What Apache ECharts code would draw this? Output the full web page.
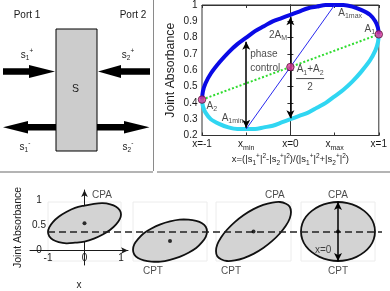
<!DOCTYPE html>
<html><head><meta charset="utf-8">
<script src="https://cdn.jsdelivr.net/npm/echarts@6/dist/echarts.min.js"></script>
<style>html,body{margin:0;padding:0;background:#fff}#c{width:390px;height:291px}</style>
</head><body><div id="c"></div>
<script>
// ---------- top-right plot data ----------
const curveX = [-1,-0.99,-0.96,-0.9,-0.8,-0.7,-0.6,-0.5,-0.4,-0.3,-0.2,-0.1,0,0.1,0.2,0.3,0.4,0.5,0.6,0.7,0.8,0.9,0.96,0.99,1];
const upperY = [0.42,0.47,0.52,0.58,0.65,0.71,0.76,0.80,0.84,0.87,0.90,0.92,0.94,0.96,0.98,0.99,1.0,1.0,1.0,0.99,0.97,0.94,0.90,0.86,0.82];
const lowerY = [0.42,0.38,0.34,0.30,0.27,0.25,0.24,0.24,0.24,0.25,0.26,0.28,0.30,0.32,0.34,0.37,0.40,0.44,0.48,0.53,0.59,0.66,0.72,0.77,0.82];
const pointsX = [-1, 0, 1];
const pointsY = [0.42, 0.62, 0.82];
const extremaX = [-0.5, 0.5];
const extremaY = [0.24, 1.0];
const yTicks = [0.2,0.3,0.4,0.5,0.6,0.7,0.8,0.9,1];
const xTicks = [-1,-0.5,0,0.5,1];
const xTickLabels = ['{n|x=-1}','{n|x}{s|min}','{n|x=0}','{n|x}{s|max}','{n|x=1}'];
const arrowX = [-0.5, 0];
const arrowLow = [0.248, 0.305];
const arrowHigh = [0.775, 0.925];

// ---------- bottom panels data ----------
const ellX = [1,0.966,0.866,0.707,0.5,0.259,0,-0.259,-0.5,-0.707,-0.866,-0.966,-1,-0.966,-0.866,-0.707,-0.5,-0.259,0,0.259,0.5,0.707,0.866,0.966];
const ellipse1Y = [0.79,0.86,0.92,0.96,0.98,0.97,0.94,0.90,0.83,0.75,0.66,0.57,0.49,0.42,0.36,0.32,0.30,0.31,0.33,0.38,0.45,0.53,0.62,0.71];
const ellipse2Y = [0.50,0.58,0.64,0.68,0.70,0.70,0.67,0.62,0.55,0.47,0.37,0.28,0.19,0.11,0.05,0.01,-0.01,-0.01,0.02,0.07,0.14,0.22,0.32,0.41];
const ellipse3Y = [0.83,0.92,0.97,1.00,0.99,0.95,0.88,0.78,0.66,0.53,0.40,0.28,0.17,0.08,0.03,0.00,0.01,0.05,0.12,0.22,0.34,0.47,0.60,0.72];
const ellipse4Y = [0.50,0.63,0.75,0.85,0.93,0.98,1.00,0.98,0.93,0.85,0.75,0.63,0.50,0.37,0.25,0.15,0.07,0.02,0.00,0.02,0.07,0.15,0.25,0.37];
const centerY = [0.64, 0.34, 0.5, 0.5];
const bottomYTicks = [0, 0.5, 1];
const bottomXTicks = [-1, 0, 1];
const thresholdY = 0.5;
const verticalArrowY = [0, 1];

// ---------- annotation anchors ----------
const topNotes = [
  {x:0.676, y:0.951, t:'{n|A}{s|1max}'},
  {x:0.899, y:0.853, t:'{n|A}{s|1}'},
  {x:-0.888, y:0.381, t:'{n|A}{s|2}'},
  {x:-0.654, y:0.307, t:'{n|A}{s|1min}'},
  {x:-0.14, y:0.816, t:'{n|2A}{s|M}'},
  {x:0.223, y:0.549, t:'{n|A}{s|1}{n|+A}{s|2}\n{bar| }\n{n|2}'}
];
const bottomNotes = [
  [{x:0.48, y:1.12, t:'CPA'}],
  [{x:-0.46, y:-0.17, t:'CPT'}],
  [{x:0.57, y:1.12, t:'CPA'}, {x:-0.6, y:-0.17, t:'CPT'}],
  [{x:0, y:1.12, t:'CPA'}, {x:0, y:-0.17, t:'CPT'}, {x:-0.4, y:0.19, t:'x=0'}]
];

const FONT = '"Liberation Sans", Arial, sans-serif';
const C = '#1a1a1a';
const FS = 10;
const rich = {
  n: {fontFamily: FONT, fontSize: FS, color: C, lineHeight: 14},
  s: {fontFamily: FONT, fontSize: 7, color: C, lineHeight: 8, verticalAlign: 'bottom'},
  p: {fontFamily: FONT, fontSize: 7, color: C, lineHeight: 8, verticalAlign: 'top'},
  bar: {width: 28, height: 1, lineHeight: 4, backgroundColor: C}
};
const frich = {
  n: {fontFamily: FONT, fontSize: 9.5, color: C, lineHeight: 14},
  s: {fontFamily: FONT, fontSize: 6.5, color: C, lineHeight: 8, verticalAlign: 'bottom'},
  p: {fontFamily: FONT, fontSize: 6.5, color: C, lineHeight: 8, verticalAlign: 'top'}
};
const grich = {
  n: {fontFamily: FONT, fontSize: 10, fill: C, lineHeight: 14},
  s: {fontFamily: FONT, fontSize: 6.5, fill: C, lineHeight: 8, verticalAlign: 'bottom'},
  p: {fontFamily: FONT, fontSize: 6.5, fill: C, lineHeight: 8, verticalAlign: 'top'}
};
const sv = (i, sign) => `{n|s}{s|${i}}{p|${sign}}`;
const formula = `{n|x=(|}${sv(1,'+')}{n||}{p|2}{n|-|}${sv(2,'+')}{n||}{p|2}{n|)/(|}${sv(1,'+')}{n||}{p|2}{n|+|}${sv(2,'+')}{n||}{p|2}{n|)}`;

const zip = (xs, ys) => xs.map((x, i) => [x, ys[i]]);
const hiddenAxis = (grid, min, max) => ({type:'value', gridIndex: grid, min, max, show: false});

const panelLeft = [48, 133, 216, 301];
const panelWidth = [73, 74, 75, 74];

const grids = [
  {left: 202, top: 5, width: 179, height: 130.5, show: true, borderColor: '#333', borderWidth: 1},
  {left: 30, top: 190, width: 98, height: 88}
];
panelLeft.forEach((l, k) => grids.push({left: l, top: 202, width: panelWidth[k], height: 59, show: true, borderColor: '#ececec', borderWidth: 1}));
grids.push({left: 48, top: 202, width: 334, height: 59});

const xAxes = [
  {type:'value', gridIndex:0, min:-1, max:1, position:'bottom',
   axisLine:{lineStyle:{color:'#333'}}, splitLine:{show:false},
   axisTick:{inside:true, length:3, customValues: xTicks, lineStyle:{color:'#333'}},
   axisLabel:{customValues: xTicks, margin: 9, verticalAlign:'middle', rich,
     formatter: v => xTickLabels[xTicks.indexOf(v)]},
   name: formula, nameLocation:'middle', nameGap: 23.5,
   nameTextStyle:{rich: frich, verticalAlign:'middle'}},
  {type:'value', gridIndex:0, min:-1, max:1, position:'top',
   axisLine:{lineStyle:{color:'#333'}}, splitLine:{show:false}, axisLabel:{show:false},
   axisTick:{inside:true, length:3, customValues: xTicks, lineStyle:{color:'#333'}}},
  {type:'value', gridIndex:1, min:-1.493, max:1.192, splitLine:{show:false},
   axisLine:{show:true, symbol:['none','arrow'], symbolSize:[5,7], lineStyle:{color:C, width:1}},
   axisTick:{show:false},
   axisLabel:{inside:true, customValues: bottomXTicks, margin: 7, verticalAlign:'middle', color: C, fontFamily: FONT, fontSize: FS},
   name:'x', nameLocation:'middle', nameGap: 20, nameTextStyle:{color:C, fontFamily:FONT, fontSize:FS, verticalAlign:'middle'}}
];
const yAxes = [
  {type:'value', gridIndex:0, min:0.2, max:1, position:'left',
   axisLine:{show:true, lineStyle:{color:'#333'}}, splitLine:{show:false},
   axisTick:{show:true, inside:true, length:3, customValues: yTicks, lineStyle:{color:'#333'}},
   axisLabel:{customValues: yTicks, margin: 4.5, color: C, fontFamily: FONT, fontSize: FS},
   name:'Joint Absorbance', nameLocation:'middle', nameGap: 31, nameRotate: 90,
   nameTextStyle:{color:C, fontFamily:FONT, fontSize:12.3, verticalAlign:'middle'}},
  {type:'value', gridIndex:0, min:0.2, max:1, position:'right',
   axisLine:{show:true, lineStyle:{color:'#333'}}, splitLine:{show:false}, axisLabel:{show:false},
   axisTick:{show:true, inside:true, length:3, customValues: yTicks, lineStyle:{color:'#333'}}},
  {type:'value', gridIndex:1, min:-0.288, max:1.203, splitLine:{show:false},
   axisLine:{show:true, symbol:['none','arrow'], symbolSize:[5,7], lineStyle:{color:C, width:1}},
   axisTick:{show:false},
   axisLabel:{inside:true, customValues: bottomYTicks, margin: 9, align:'center', color: C, fontFamily: FONT, fontSize: FS},
   name:'Joint Absorbance', nameLocation:'middle', nameGap: 12, nameRotate: 90,
   nameTextStyle:{color:C, fontFamily:FONT, fontSize:10.5, verticalAlign:'middle'}}
];
for (let k = 0; k < 4; k++) { xAxes.push(hiddenAxis(2 + k, -1, 1)); yAxes.push(hiddenAxis(2 + k, 0, 1)); }
xAxes.push(hiddenAxis(6, 0, 1)); yAxes.push(hiddenAxis(6, 0, 1));

const ellipses = [ellipse1Y, ellipse2Y, ellipse3Y, ellipse4Y];
function ellipseSeries(k) {
  const pts = zip(ellX, ellipses[k]);
  return {
    type:'custom', xAxisIndex: 3 + k, yAxisIndex: 3 + k, data: pts, silent: true, z: 3, clip: false,
    renderItem: (params, api) => {
      if (params.dataIndex !== 0) return null;
      return {type:'polygon', shape:{points: pts.map(p => api.coord(p)), smooth: 0.35},
        style:{fill:'#d3d3d3', stroke:'#111', lineWidth: 1.8}};
    }
  };
}
function labelSeries(xi, yi, notes, extra) {
  return Object.assign({
    type:'scatter', xAxisIndex: xi, yAxisIndex: yi, symbolSize: 0, silent: true, z: 20, clip: false,
    data: notes.map(n => ({value:[n.x, n.y], name: n.t})),
    label:{show:true, position:'inside', formatter: p => p.name, color: C, fontFamily: FONT, fontSize: FS, rich, lineHeight: 14}
  }, extra || {});
}
const cpRich = {fontFamily: FONT, fontSize: 10, color: C};

const series = [
  {type:'line', xAxisIndex:0, yAxisIndex:0, data: zip(curveX, upperY), smooth: 0.3, showSymbol:false, clip:false, silent:true,
   lineStyle:{color:'#0a0ae6', width:4}, z:2},
  {type:'line', xAxisIndex:0, yAxisIndex:0, data: zip(curveX, lowerY), smooth: 0.3, showSymbol:false, clip:false, silent:true,
   lineStyle:{color:'#30d6f2', width:4}, z:2},
  {type:'line', xAxisIndex:0, yAxisIndex:0, data: [[pointsX[0], pointsY[0]], [pointsX[2], pointsY[2]]], showSymbol:false, silent:true,
   lineStyle:{color:'#2fdc2f', width:2, type:[2,2]}, z:3},
  {type:'line', xAxisIndex:0, yAxisIndex:0, data: zip(extremaX, extremaY), showSymbol:false, silent:true,
   lineStyle:{color:'#2a2aee', width:1}, z:3,
   markLine:{silent:true, symbol:['arrow','arrow'], symbolSize:[6,8], label:{show:false},
     lineStyle:{color:'#000', width:1.5, type:'solid'}, emphasis:{disabled:true},
     data: arrowX.map((x, i) => [{coord:[x, arrowLow[i]]}, {coord:[x, arrowHigh[i]]}])}},
  {type:'scatter', xAxisIndex:0, yAxisIndex:0, data: zip(pointsX, pointsY), symbolSize: 7.5, silent:true, clip:false, z:5,
   itemStyle:{color:'#e0379a', borderColor:'#5a1840', borderWidth:1}},
  labelSeries(0, 0, topNotes),
  labelSeries(0, 0, [{x:-0.5, y:0.654, t:'{n|phase}\n{n|control}'}], {label:{show:true, position:'inside', align:'left', offset:[4,0], formatter: p => p.name, rich}}),
  {type:'line', xAxisIndex:7, yAxisIndex:7, data:[], silent:true, z:10,
   markLine:{silent:true, symbol:['none','none'], label:{show:false}, emphasis:{disabled:true},
     lineStyle:{color:'#222', width:1.5, type:[7,4]}, data:[{yAxis: thresholdY}]}}
];
for (let k = 0; k < 4; k++) {
  series.push(ellipseSeries(k));
  const dot = {type:'scatter', xAxisIndex: 3 + k, yAxisIndex: 3 + k, data: [[0, centerY[k]]], symbolSize: 4, silent:true, z: 12,
    itemStyle:{color:'#000'}};
  if (k === 3) {
    dot.markLine = {silent:true, symbol:['arrow','arrow'], symbolSize:[6,8], label:{show:false}, emphasis:{disabled:true},
      lineStyle:{color:'#000', width:1.5, type:'solid'},
      data:[[{coord:[0, verticalArrowY[0]]}, {coord:[0, verticalArrowY[1]]}]]};
  }
  series.push(dot);
  series.push(labelSeries(3 + k, 3 + k, bottomNotes[k], {label:Object.assign({show:true, position:'inside', formatter: p => p.name}, cpRich)}));
}

// ---------- schematic (left diagram) ----------
const T = (x, y, text, fs) => ({type:'text', x, y, silent:true, style:{text, fill:C, fontFamily:FONT, fontSize: fs || 10, align:'center', verticalAlign:'middle', rich: grich}});
const arrow = pts => ({type:'polygon', silent:true, shape:{points: pts}, style:{fill:'#000'}});
const graphic = [
  {type:'line', silent:true, shape:{x1:153.5, y1:0, x2:153.5, y2:171}, style:{stroke:'#8a8a8a', lineWidth:1}},
  {type:'line', silent:true, shape:{x1:0, y1:172, x2:153, y2:172}, style:{stroke:'#b4b4b4', lineWidth:2}},
  {type:'line', silent:true, shape:{x1:157, y1:172, x2:390, y2:172}, style:{stroke:'#b4b4b4', lineWidth:2}},
  {type:'rect', silent:true, shape:{x:56, y:29, width:41, height:122}, style:{fill:'#cccccc', stroke:'#000', lineWidth:1}},
  arrow([[3,68.3],[29,68.3],[29,65],[55,71.5],[29,78],[29,74.7],[3,74.7]]),
  arrow([[150,68.3],[121,68.3],[121,65],[98,71.5],[121,78],[121,74.7],[150,74.7]]),
  arrow([[56,124],[28,124],[28,121],[3,127.3],[28,133.6],[28,130.6],[56,130.6]]),
  arrow([[97,124],[124,124],[124,121],[149.5,127.3],[124,133.6],[124,130.6],[97,130.6]]),
  T(27, 15, 'Port 1'), T(133, 15, 'Port 2'), T(75.5, 89, 'S', 10.5),
  T(27, 55, sv(1,'+')), T(128, 55, sv(2,'+')), T(25, 147, sv(1,'-')), T(128, 147, sv(2,'-'))
];

const chart = echarts.init(document.getElementById('c'), null, {renderer:'canvas', width:390, height:291});
chart.setOption({animation:false, backgroundColor:'#fff', grid: grids, xAxis: xAxes, yAxis: yAxes, series, graphic});
</script></body></html>
